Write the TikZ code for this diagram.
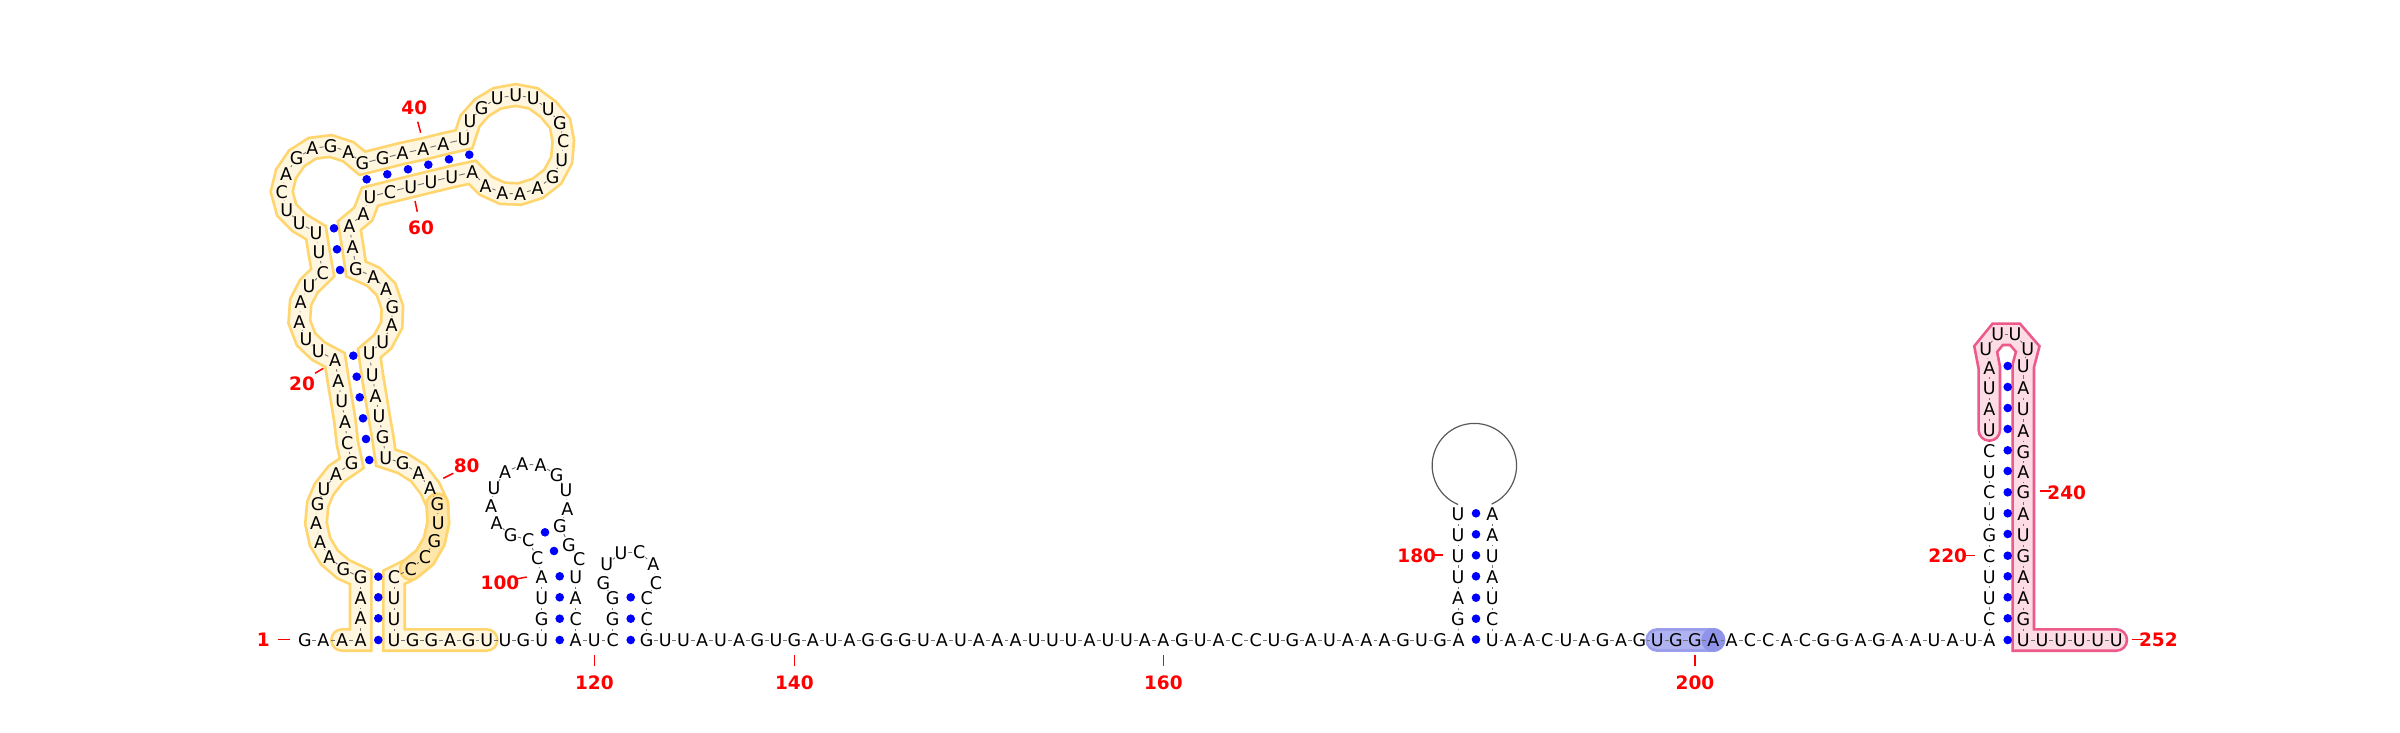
\documentclass[tikz,border=0pt]{standalone}
\usepackage{fontspec}
\setmainfont{DejaVu Sans}
\usetikzlibrary{shapes.geometric}
\pgfdeclarelayer{bg}
\pgfsetlayers{bg,main}
\newcommand\ntx[1]{\raisebox{-6.4pt}[0pt][0pt]{\makebox[0pt]{#1}}}
\newcommand\numlabel[8]{%
  \coordinate (ta#1) at (#2,#3);
  \coordinate (tb#1) at (#4,#5);
  \node[numlab] (lab#1) at (#6,#7) {#8};
  \draw[tickline] (ta#1) -- (tb#1);
}
\definecolor{yelS}{HTML}{FFD56E}
\definecolor{yelF}{HTML}{FFF6E0}
\definecolor{yelD}{HTML}{FFE7AB}
\definecolor{pnkS}{HTML}{EC5A8A}
\definecolor{pnkF}{HTML}{FDDCE6}
\definecolor{bluS}{HTML}{9A9EEB}
\definecolor{bluF}{HTML}{B0B3F1}
\definecolor{bluD}{HTML}{9094E8}
\tikzset{
  nt/.style={ellipse,inner sep=0pt,outer sep=0pt,minimum width=14.5pt,minimum height=19pt,font=\fontsize{17.5}{19}\selectfont,text=black},
  bpdot/.style={circle,fill=blue,inner sep=0pt,outer sep=0pt,minimum size=8.6pt},
  bb/.style={draw=black!55,line width=0.9pt},
  numlab/.style={inner sep=0pt,text=red,font=\fontsize{18.5}{20}\selectfont\bfseries},
  tickline/.style={draw=red,line width=1.5pt},
  bandout/.style={line width=24pt,line join=miter,miter limit=10,line cap=round},
  bandin/.style={line width=18.6pt,line join=miter,miter limit=10,line cap=round},
}
\begin{document}
\begin{tikzpicture}[x=1pt,y=-1pt]
\useasboundingbox (0,0) rectangle (2400,733);
\begin{pgfonlayer}{bg}
\fill[white] (0,0) rectangle (2400,733);
\end{pgfonlayer}
\foreach \ni/\nl/\nx/\ny in {
1/G/305/640,2/A/323.3/640,3/A/342/640,4/A/360.7/640,5/A/360.7/618.5,6/A/360.7/598,7/G/360.7/577.3,8/G/343.3/569.3,9/A/329.3/557.3,10/A/320/541.7,
11/A/316/523.3,12/G/317.7/504.3,13/U/324/489.3,14/A/336/474,15/G/351.7/463.3,16/C/347.3/442.7,17/A/345/421.7,18/U/341.7/401,19/A/338.3/381,20/A/335/360,
21/U/318.3/351,22/U/306/339.3,23/A/299.3/321.7,24/A/300.7/302,25/U/309/286,26/C/322.7/272.7,27/U/319/251.7,28/U/316/232.7,29/U/299.3/222.7,30/U/286.7/210,
31/C/281.7/191.7,32/A/286/174,33/G/296.7/158.3,34/A/312.3/148.3,35/G/330.7/146,36/A/348.3/151.7,37/G/362.3/163.3,38/G/382.7/158.3,39/A/402.7/153.3,40/A/423.3/149,
41/A/443.3/144,42/U/464/139.3,43/U/470/121,44/G/481.7/107.7,45/U/497.3/98.3,46/U/515.7/95,47/U/533.3/98.3,48/U/548.3/109.3,49/G/560/123.3,50/C/563.3/140.7,
51/U/561.7/160,52/G/552.7/176.7,53/A/537.7/188.3,54/A/520/194,55/A/502.3/193.3,56/A/485.7/185.7,57/A/472.3/172.3,58/U/451.7/176.7,59/U/431/181.7,60/U/410.7/186.7,
61/C/390/191.7,62/U/370/196.7,63/A/363.3/214,64/A/349.3/225.7,65/A/352.7/246.7,66/G/356/269,67/A/373.3/276.7,68/A/386/289.3,69/G/392.3/307.3,70/A/391.7/325,
71/U/382.7/341.7,72/U/369.3/353.3,73/U/372.3/375,74/A/375.7/395.7,75/U/379/416,76/G/382.7/436.7,77/U/385.7/457.7,78/G/402.7/463.3,79/A/418.7/473.5,80/A/430/488.3,
81/G/437.3/504.3,82/U/438.3/522.7,83/G/434.3/541,84/C/425/557.3,85/C/410.7/569,86/C/394/577.3,87/U/394/598.3,88/U/394/619,89/U/394/640,90/G/412.7/640,
91/G/431.3/640,92/A/450/640,93/G/468.7/640,94/U/486.7/640,95/U/505/640,96/G/523.3/640,97/U/541.7/640,98/G/541.7/619.3,99/U/541.7/598.3,100/A/541.7/577.3,
101/C/537.3/558.3,102/C/528.3/540,103/G/510.7/535,104/A/496.7/523.3,105/A/491/505.7,106/U/494/487.7,107/A/505/472.3,108/A/522.3/464.3,109/A/540.7/465,110/G/556.7/475,
111/U/566/490,112/A/567.3/509,113/G/560/526,114/G/569/545,115/C/579.3/559,116/U/575.7/577.3,117/A/575.7/598.3,118/C/575.7/619.3,119/A/575.7/640,120/U/594.3/640,
121/C/612.7/640,122/G/612.7/619.3,123/G/612.7/598.3,124/G/603.3/582.7,125/U/606.7/564.3,126/U/621/552.7,127/C/639.3/552.3,128/A/653.3/564.3,129/C/656/582.7,130/C/646.7/598.3,
131/C/646.7/619.3,132/G/646.7/640,133/U/665.2/640,134/U/683.6/640,135/A/702.1/640,136/U/720.5/640,137/A/739/640,138/G/757.4/640,139/U/775.9/640,140/G/794.3/640,
141/A/812.8/640,142/U/831.2/640,143/A/849.7/640,144/G/868.1/640,145/G/886.6/640,146/G/905/640,147/U/923.5/640,148/A/941.9/640,149/U/960.4/640,150/A/978.8/640,
151/A/997.3/640,152/A/1015.7/640,153/U/1034.2/640,154/U/1052.6/640,155/U/1071.1/640,156/A/1089.5/640,157/U/1108/640,158/U/1126.4/640,159/A/1144.9/640,160/A/1163.3/640,
161/G/1181.8/640,162/U/1200.2/640,163/A/1218.7/640,164/C/1237.1/640,165/C/1255.6/640,166/U/1274/640,167/G/1292.5/640,168/A/1310.9/640,169/U/1329.4/640,170/A/1347.8/640,
171/A/1366.3/640,172/A/1384.7/640,173/G/1403.2/640,174/U/1421.6/640,175/G/1440.1/640,176/A/1458.5/640,177/G/1458/619,178/A/1458/598.3,179/U/1458/577.3,180/U/1458/555.7,
181/U/1458/535,182/U/1458/514,183/A/1492.3/514,184/A/1492.3/535,185/U/1492.3/555.7,186/A/1492.3/577.3,187/U/1492.3/598.3,188/C/1492.3/619,189/U/1492.3/640,190/A/1510.7/640,
191/A/1529/640,192/C/1547.3/640,193/U/1566/640,194/A/1584.3/640,195/G/1602.7/640,196/A/1621/640,197/G/1639.3/640,198/U/1657.3/640,199/G/1676/640,200/G/1695/640,
201/A/1713.3/640,202/A/1731.7/640,203/C/1750/640,204/C/1768.3/640,205/A/1786.7/640,206/C/1805/640,207/G/1823.3/640,208/G/1842.3/640,209/A/1860.7/640,210/G/1879/640,
211/A/1897.3/640,212/A/1915.7/640,213/U/1934/640,214/A/1952.7/640,215/U/1971/640,216/A/1989.3/640,217/C/1989.3/619,218/U/1989.3/597.7,219/U/1989.3/576.7,220/C/1989.3/556,
221/G/1989.3/535,222/U/1989.3/514,223/C/1989.3/492.3,224/U/1989.3/471.7,225/C/1989.3/451,226/U/1989.3/430,227/A/1989.3/409,228/U/1989.3/388.3,229/A/1989.3/367.7,230/U/1985.7/349,
231/U/1997.7/334.3,232/U/2015/334.3,233/U/2027.7/349,234/U/2023.3/365.7,235/A/2023.3/388.3,236/U/2023.3/409,237/A/2023.3/431,238/G/2023.3/451.7,239/A/2023.3/472.3,240/G/2023.3/492.3,
241/A/2023.3/514,242/U/2023.3/535,243/G/2023.3/556,244/A/2023.3/577,245/A/2023.3/598,246/G/2023.3/619,247/U/2023.3/640,248/U/2042/640,249/U/2060.7/640,250/U/2079.3/640,
251/U/2097.7/640,252/U/2116.3/640}
{ \node[nt] (n\ni) at (\nx,\ny) {\ntx{\nl}}; }
% backbone
\foreach \ni in {1,...,181,183,184,...,251}{
  \pgfmathtruncatemacro\nj{\ni+1}
  \draw[bb] (n\ni) -- (n\nj);
}
\draw[draw=black!65,line width=1.2pt] (n182.north) arc[start angle=247.2,end angle=-65.9,radius=42.2pt];
% base pairs
\foreach \ni/\nx/\ny in {
1/378.3/640,2/378.3/618.3,3/378.3/597.3,4/378.3/576.7,
5/353.3/355.7,6/356.7/376.7,7/359.7/397.3,8/363/418.3,9/366/439,10/369.3/460,
11/334/228.3,12/337/249.3,13/340/270,
14/366.7/179.3,15/387.3/174.3,16/408/169.3,17/428.3/164.7,18/449/159.3,19/469.3/154.7,
20/545/532.3,21/554/551,22/559.7/576.3,23/559.7/597.3,24/559.7/618.7,25/559.7/640,
26/630.7/597.3,27/630.7/618.7,28/630.7/640,
29/1476/513.3,30/1476/534.3,31/1476/555.3,32/1476/576.3,33/1476/597.7,34/1476/618.7,35/1476/639.5,
36/2007.7/366,37/2007.7/387,38/2007.7/408,39/2007.7/429,40/2007.7/450.3,41/2007.7/471,42/2007.7/492.3,
43/2007.7/513.3,44/2007.7/534,45/2007.7/555.7,46/2007.7/576.3,47/2007.7/597.3,48/2007.7/618.3,49/2007.7/640}
{ \node[bpdot] (b\ni) at (\nx,\ny) {}; }
% highlight bands
\begin{pgfonlayer}{bg}
\draw[bandout,yelS] (n3.center) \foreach \ni in {4,...,94}{ -- (n\ni.center)};
\draw[bandin,yelF] (n3.center) \foreach \ni in {4,...,94}{ -- (n\ni.center)};
\draw[bandout,yelS] (n81.center) \foreach \ni in {82,...,85}{ -- (n\ni.center)};
\draw[bandin,yelD] (n81.center) \foreach \ni in {82,...,85}{ -- (n\ni.center)};
\draw[bandout,pnkS] (n226.center) \foreach \ni in {227,...,252}{ -- (n\ni.center)};
\draw[bandin,pnkF] (n226.center) \foreach \ni in {227,...,252}{ -- (n\ni.center)};
\draw[bandout,bluS] (n198.center) -- (n199.center) -- (n200.center) -- (n201.center);
\draw[bandin,bluF] (n198.center) -- (n199.center) -- (n200.center) -- (n201.center);
\fill[bluD] (n201.center) circle[radius=12pt];
\end{pgfonlayer}
% numbering
\numlabel{1}{278.3}{639.5}{290}{639.5}{263.3}{640}{1}
\numlabel{20}{323.3}{368.3}{315}{373.3}{302}{383.3}{20}
\numlabel{40}{417.7}{121.7}{420.7}{132.7}{414.3}{107.7}{40}
\numlabel{60}{415}{201}{417.3}{211.7}{421}{227.7}{60}
\numlabel{80}{453.3}{473.3}{443.3}{478.3}{466.7}{465.7}{80}
\numlabel{100}{515}{579.3}{526.7}{577}{500}{582.3}{100}
\numlabel{120}{594.3}{655}{594.3}{666}{594.3}{682.3}{120}
\numlabel{140}{794.3}{655}{794.3}{666}{794.3}{682.3}{140}
\numlabel{160}{1163.3}{655}{1163.3}{666}{1163.3}{682.3}{160}
\numlabel{180}{1432.3}{555}{1442.7}{555}{1416.7}{555.7}{180}
\numlabel{200}{1695}{655}{1695}{666}{1695}{682.3}{200}
\numlabel{220}{1963.3}{555.3}{1975}{555.3}{1947.7}{556}{220}
\numlabel{240}{2040}{491}{2051}{491}{2066.7}{492.7}{240}
\numlabel{252}{2131.7}{639.7}{2142.7}{639.7}{2158.3}{640}{252}
\end{tikzpicture}
\end{document}
